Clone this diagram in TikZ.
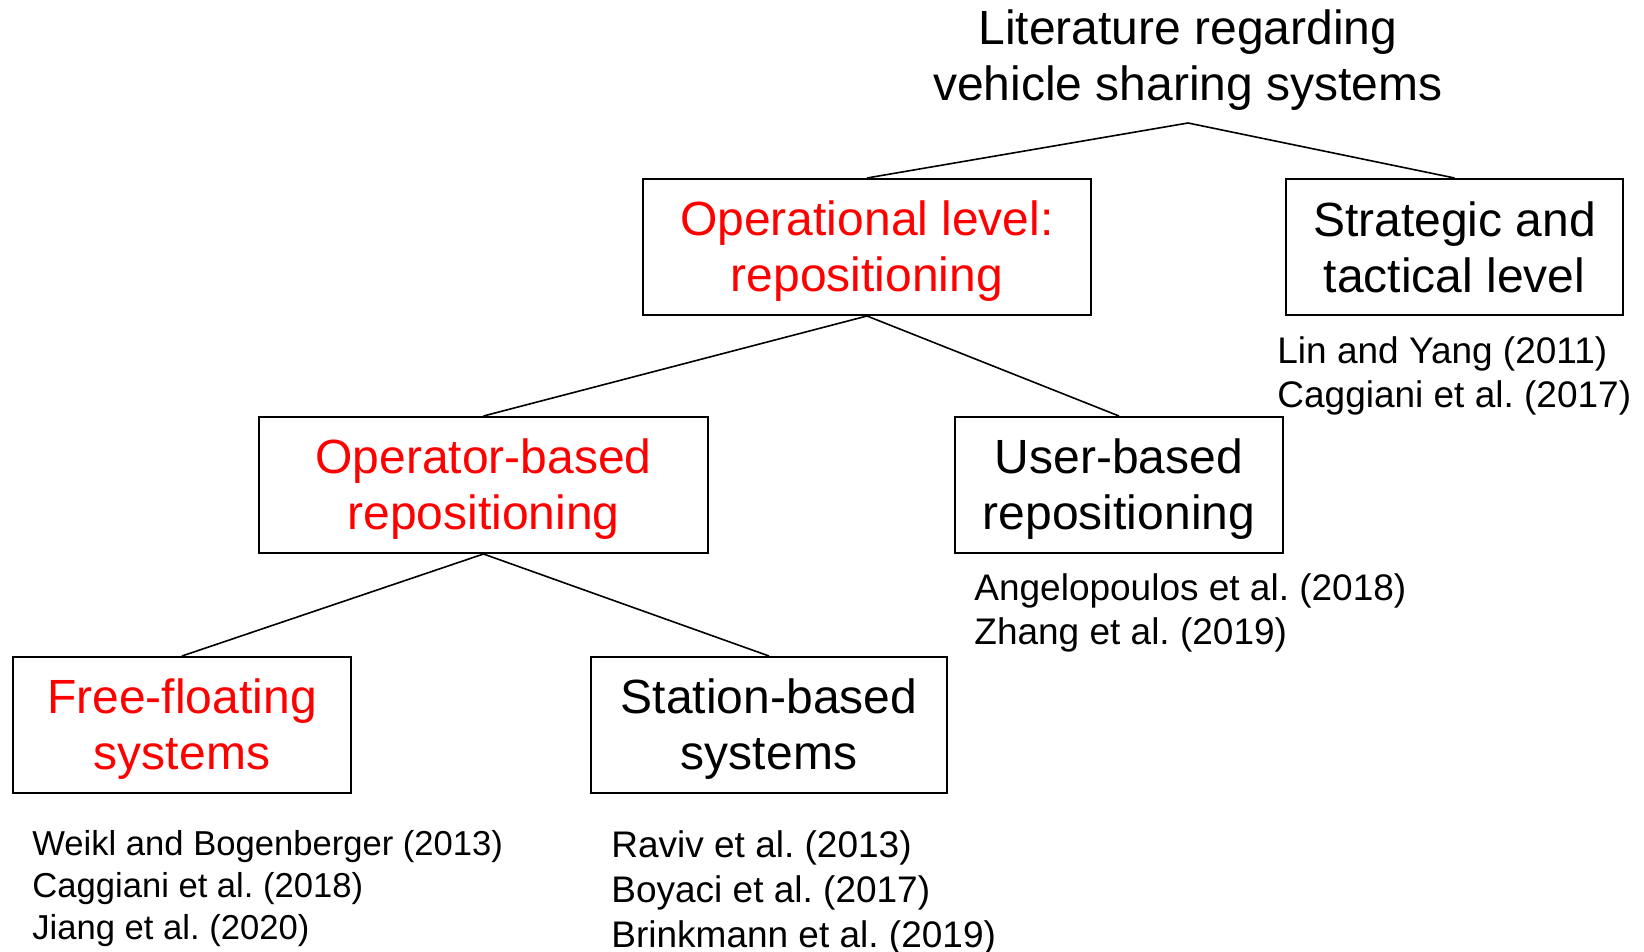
\documentclass[tikz,border=0pt]{standalone}
\usepackage{fontspec}
\setmainfont{Liberation Sans}
\frenchspacing
\begin{document}
\begin{tikzpicture}[x=0.5pt,y=-0.5pt,
  box/.style={draw=black, line width=1pt, inner sep=0pt, minimum height=68pt},
  boxtext/.style={align=center, inner sep=0pt, yshift=-2pt, font=\fontsize{24}{28}\selectfont},
  link/.style={line width=0.8pt},
  refs/.style={anchor=west, align=left, inner sep=0pt, font=\fontsize{18.5}{22}\selectfont}]
\useasboundingbox (0,0) rectangle (1644,952);

\node[align=center, inner sep=0pt, font=\fontsize{24}{28}\selectfont] (title) at (1188,60)
  {Literature regarding\\vehicle sharing systems};
\coordinate (peak) at (1188,123);

\node[box, minimum width=224pt,
  label={[boxtext, text=red]center:Operational level:\\repositioning}] (op) at (867,247) {};
\node[box, minimum width=168.5pt,
  label={[boxtext, yshift=2pt]center:Strategic and\\tactical level}] (strat) at (1454.5,247) {};
\node[box, minimum width=224.5pt,
  label={[boxtext, text=red]center:Operator-based\\repositioning}] (operator) at (483.5,485) {};
\node[box, minimum width=164pt,
  label={[boxtext]center:User-based\\repositioning}] (user) at (1119,485) {};
\node[box, minimum width=169pt,
  label={[boxtext, text=red]center:Free-floating\\systems}] (free) at (182,725) {};
\node[box, minimum width=178pt,
  label={[boxtext]center:Station-based\\systems}] (station) at (769,725) {};

\draw[link] (op.north) -- (peak) -- (strat.north);
\draw[link] (operator.north) -- (op.south) -- (user.north);
\draw[link] (free.north) -- (operator.south) -- (station.north);

\node[refs] (refstrat) at (1277,376) {Lin and Yang (2011)\\Caggiani et al. (2017)};
\node[refs] (refuser) at (974,613) {Angelopoulos et al. (2018)\\Zhang et al. (2019)};
\node[refs, font=\fontsize{17.3}{21}\selectfont] (reffree) at (32,889)
  {Weikl and Bogenberger (2013)\\Caggiani et al. (2018)\\Jiang et al. (2020)};
\node[refs, font=\fontsize{18.5}{22.3}\selectfont] (refstation) at (611,893)
  {Raviv et al. (2013)\\Boyaci et al. (2017)\\Brinkmann et al. (2019)};
\end{tikzpicture}
\end{document}
